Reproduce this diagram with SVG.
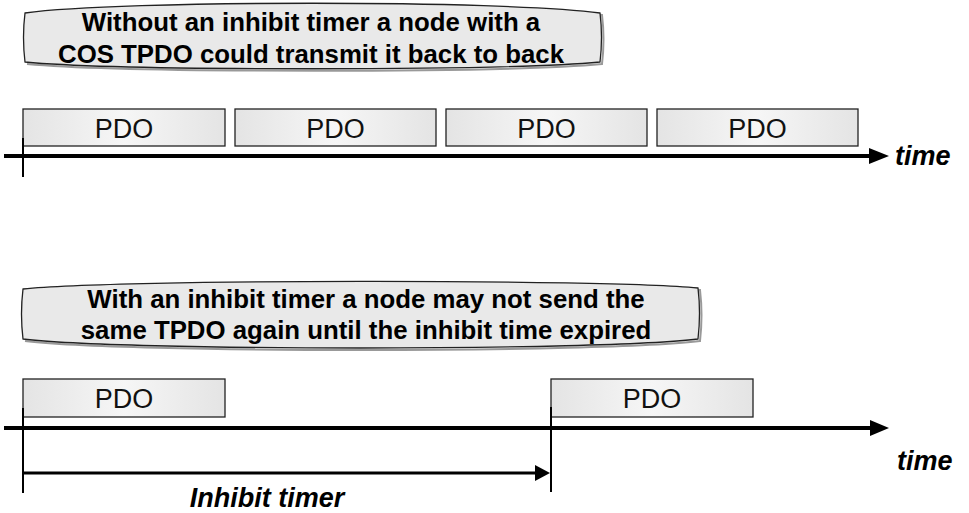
<svg xmlns="http://www.w3.org/2000/svg" width="969" height="513" viewBox="0 0 969 513">
  <defs>
    <linearGradient id="boxGrad" x1="0" y1="0" x2="1" y2="0">
      <stop offset="0" stop-color="#e4e4e4"/>
      <stop offset="0.5" stop-color="#f6f6f6"/>
      <stop offset="1" stop-color="#e4e4e4"/>
    </linearGradient>
  </defs>
  <style>
    .box { fill: url(#boxGrad); stroke: #222; stroke-width: 1.3; }
    .callout { fill: #e9e9e9; stroke: #222; stroke-width: 1.3; }
    .shadow { fill: none; stroke: #999; stroke-width: 2; }
    .ctext { font-family: "Liberation Sans", Arial, sans-serif; font-weight: bold; font-size: 25.8px; fill: #000; text-anchor: middle; }
    .ptext { font-family: "Liberation Sans", Arial, sans-serif; font-size: 27px; fill: #111; text-anchor: middle; }
    .itext { font-family: "Liberation Sans", Arial, sans-serif; font-weight: bold; font-style: italic; font-size: 27px; fill: #000; }
    .axis { stroke: #000; stroke-width: 4; fill: none; }
    .tick { stroke: #000; stroke-width: 2; fill: none; }
    .span { stroke: #000; stroke-width: 3; fill: none; }
    .head { fill: #000; }
  </style>
  <rect width="969" height="513" fill="#fff"/>

  <g id="callout1">
    <path class="shadow" d="M27,15 C122,3 507,3 602,15 Q605,39 602,64 C507,73 122,73 27,64"/>
    <path class="callout" d="M25,13 C120,0 505,0 600,13 Q603,37 600,62 C505,71 120,71 25,62 Q22,37 25,13 Z"/>
    <text class="ctext" x="311" y="31">Without an inhibit timer a node with a</text>
    <text class="ctext" x="311" y="63">COS TPDO could transmit it back to back</text>
  </g>

  <g id="pdo1"><rect class="box" x="23" y="109" width="202" height="37"/><text class="ptext" x="124" y="138">PDO</text></g>
  <g id="pdo2"><rect class="box" x="235" y="109" width="201" height="37"/><text class="ptext" x="335.5" y="138">PDO</text></g>
  <g id="pdo3"><rect class="box" x="446" y="109" width="201" height="37"/><text class="ptext" x="546.5" y="138">PDO</text></g>
  <g id="pdo4"><rect class="box" x="657" y="109" width="201" height="37"/><text class="ptext" x="757.5" y="138">PDO</text></g>
  <g id="time1"><text class="itext" x="895" y="165">time</text></g>

  <g id="callout2">
    <path class="shadow" d="M25,291 C120,281 605,281 700,290 Q703,315 700,341 C605,353 120,353 25,341"/>
    <path class="callout" d="M23,289 C118,279 603,279 698,288 Q701,313 698,339 C603,351 118,351 23,339 Q20,314 23,289 Z"/>
    <text class="ctext" x="366" y="308">With an inhibit timer a node may not send the</text>
    <text class="ctext" x="366" y="339">same TPDO again until the inhibit time expired</text>
  </g>

  <g id="pdo5"><rect class="box" x="23" y="379" width="202" height="38"/><text class="ptext" x="124" y="408">PDO</text></g>
  <g id="pdo6"><rect class="box" x="551" y="379" width="202" height="38"/><text class="ptext" x="652" y="408">PDO</text></g>
  <g id="time2"><text class="itext" x="897" y="470">time</text></g>
  <g id="inhibitLabel"><text class="itext" x="267" y="507" text-anchor="middle">Inhibit timer</text></g>

  <g id="connectors">
    <line class="axis" x1="4" y1="156" x2="872" y2="156"/>
    <polygon class="head" points="869,148 889,156 869,164"/>
    <line class="tick" x1="23" y1="138" x2="23" y2="177"/>

    <line class="axis" x1="4" y1="428" x2="873" y2="428"/>
    <polygon class="head" points="870,420 889,428 870,436"/>
    <line class="tick" x1="23" y1="408" x2="23" y2="493"/>
    <line class="tick" x1="551" y1="407" x2="551" y2="492"/>

    <line class="span" x1="23" y1="473" x2="537" y2="473"/>
    <polygon class="head" points="535,465 550,473 535,481"/>
  </g>
</svg>
